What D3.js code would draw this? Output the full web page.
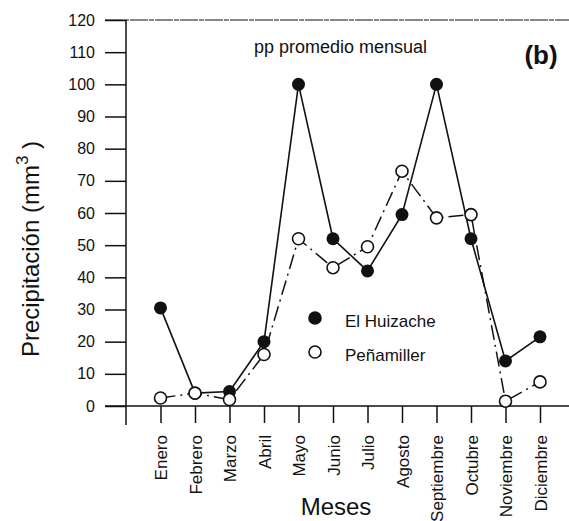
<!DOCTYPE html>
<html>
<head>
<meta charset="utf-8">
<script src="https://cdn.jsdelivr.net/npm/d3@7"></script>
<style>
  html, body { margin: 0; padding: 0; background: #fff; }
  svg { display: block; font-family: "Liberation Sans", Arial, sans-serif; }
</style>
</head>
<body>
<svg id="chart" width="569" height="521"></svg>
<script>
// Monthly mean precipitation for two stations
const months = ["Enero", "Febrero", "Marzo", "Abril", "Mayo", "Junio", "Julio",
                "Agosto", "Septiembre", "Octubre", "Noviembre", "Diciembre"];
const huizache   = [30.5, 4, 4.5, 20, 100, 52, 42, 59.5, 100, 52, 14, 21.5];
const penamiller = [2.5, 4, 2, 16, 52, 43, 49.5, 73, 58.5, 59.5, 1.5, 7.5];
const yTicks = [0, 10, 20, 30, 40, 50, 60, 70, 80, 90, 100, 110, 120];

const svg = d3.select("#chart");
const font = "'Liberation Sans', Arial, sans-serif";
const ink = "#111";

const axisX0 = 126, frameLeft = 105, frameRight = 569;
const x = d3.scaleLinear().domain([0, 13]).range([axisX0, axisX0 + 13 * 34.5]);
const y = d3.scaleLinear().domain([0, 120]).range([406, 20]);

// frame top line and x baseline
svg.append("line")
  .attr("x1", frameLeft).attr("x2", frameRight)
  .attr("y1", y(120)).attr("y2", y(120))
  .attr("stroke", ink).attr("stroke-width", 1)
  .attr("stroke-dasharray", "18 1 5 1");

svg.append("line")
  .attr("x1", frameLeft).attr("x2", frameRight)
  .attr("y1", y(0)).attr("y2", y(0))
  .attr("stroke", ink).attr("stroke-width", 1.5);

// y axis
const yAxis = d3.axisLeft(y).tickValues(yTicks).tickSize(21).tickPadding(10);
const gy = svg.append("g").attr("transform", `translate(${axisX0},0)`).call(yAxis);
gy.select(".domain").remove();
gy.selectAll(".tick line").attr("stroke", ink).attr("stroke-width", 1.5);
gy.selectAll(".tick text")
  .attr("font-size", 16).attr("fill", ink).attr("font-family", font);
svg.append("line")
  .attr("x1", axisX0).attr("x2", axisX0)
  .attr("y1", y(120)).attr("y2", 425)
  .attr("stroke", ink).attr("stroke-width", 1.5);

// x axis with rotated month labels
const xAxis = d3.axisBottom(x)
  .tickValues(d3.range(1, 13))
  .tickFormat(i => months[i - 1])
  .tickSize(17).tickPadding(8);
const gx = svg.append("g").attr("transform", `translate(0,${y(0)})`).call(xAxis);
gx.select(".domain").remove();
gx.selectAll(".tick line").attr("stroke", ink).attr("stroke-width", 1.5);
gx.selectAll(".tick text")
  .attr("font-size", 17).attr("fill", ink).attr("font-family", font)
  .attr("text-anchor", "end")
  .attr("dy", "0.36em")
  .attr("transform", "translate(0,29) rotate(-90)")
  .attr("x", 0).attr("y", 0);

// series lines
const line = d3.line().x((d, i) => x(i + 1)).y(d => y(d));

svg.append("path").datum(penamiller)
  .attr("d", line).attr("fill", "none")
  .attr("stroke", ink).attr("stroke-width", 1.5)
  .attr("stroke-dasharray", "15 5 2 5");

svg.append("path").datum(huizache)
  .attr("d", line).attr("fill", "none")
  .attr("stroke", ink).attr("stroke-width", 1.6);

// markers
svg.append("g").selectAll("circle").data(huizache).join("circle")
  .attr("cx", (d, i) => x(i + 1)).attr("cy", d => y(d))
  .attr("r", 6.5).attr("fill", ink);

svg.append("g").selectAll("circle").data(penamiller).join("circle")
  .attr("cx", (d, i) => x(i + 1)).attr("cy", d => y(d))
  .attr("r", 6).attr("fill", "#fff")
  .attr("stroke", ink).attr("stroke-width", 1.6);

// legend
const legend = [
  { label: "El Huizache", fill: ink, cy: 318 },
  { label: "Peñamiller", fill: "#fff", cy: 352 }
];
const lg = svg.append("g");
lg.selectAll("circle").data(legend).join("circle")
  .attr("cx", 315).attr("cy", d => d.cy).attr("r", 6)
  .attr("fill", d => d.fill).attr("stroke", ink).attr("stroke-width", 1.6);
lg.selectAll("text").data(legend).join("text")
  .attr("x", 345).attr("y", d => d.cy + 9)
  .attr("font-size", 17).attr("fill", ink)
  .text(d => d.label);

// titles
svg.append("text")
  .attr("x", 254).attr("y", 53)
  .attr("font-size", 18).attr("fill", ink)
  .text("pp promedio mensual");

svg.append("text")
  .attr("x", 541).attr("y", 64).attr("text-anchor", "middle")
  .attr("font-size", 26).attr("font-weight", "bold").attr("fill", ink)
  .text("(b)");

svg.append("text")
  .attr("x", 336).attr("y", 515).attr("text-anchor", "middle")
  .attr("font-size", 24).attr("fill", ink)
  .text("Meses");

const yl = svg.append("text")
  .attr("transform", "translate(39,249) rotate(-90)")
  .attr("text-anchor", "middle")
  .attr("font-size", 24).attr("fill", ink);
yl.append("tspan").text("Precipitación (mm");
yl.append("tspan").attr("dy", -11).attr("font-size", 17).text("3");
yl.append("tspan").attr("dy", 11).text(" )");
</script>
</body>
</html>
